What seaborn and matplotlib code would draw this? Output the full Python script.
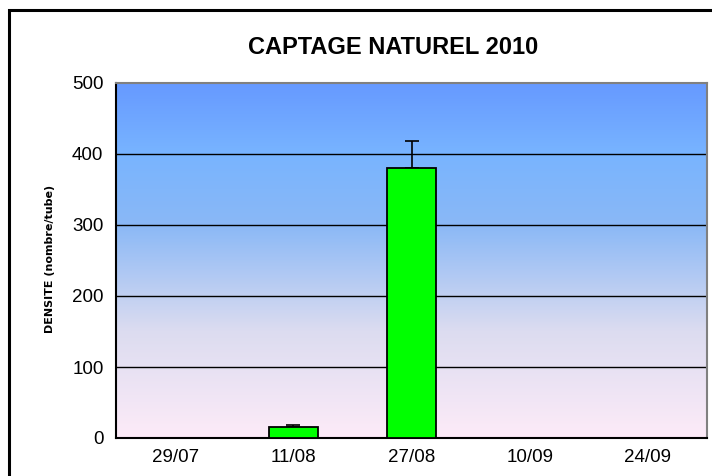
import numpy as np
import pandas as pd
import matplotlib
matplotlib.use("Agg")
import matplotlib.pyplot as plt
import seaborn as sns
from matplotlib.colors import LinearSegmentedColormap
from matplotlib.patches import Rectangle

# data
dates = ['29/07', '11/08', '27/08', '10/09', '24/09']
densite = [0, 15, 380, 0, 0]
erreur = [0, 3, 38, 0, 0]
yticks = [0, 100, 200, 300, 400, 500]

df = pd.DataFrame({'date': dates, 'densite': densite})

sns.set_style('white')
plt.rcParams['font.family'] = ['Liberation Sans', 'DejaVu Sans']
plt.rcParams['text.color'] = 'black'
plt.rcParams['xtick.color'] = 'black'
plt.rcParams['ytick.color'] = 'black'
plt.rcParams['axes.labelcolor'] = 'black'

fig = plt.figure(figsize=(7.12, 4.76), dpi=100)
ax = fig.add_axes([116 / 712, 1 - 438 / 476, 591 / 712, 355 / 476])

# gradient background of the plot area (Excel style)
grad = LinearSegmentedColormap.from_list(
    'fond', [(0.0, '#fdebf8'), (0.3, '#dcdcf0'), (0.6, '#8ab8f6'),
             (0.8, '#78b4ff'), (1.0, '#6699ff')])
ax.imshow(np.linspace(0, 1, 256).reshape(-1, 1), cmap=grad, aspect='auto',
          extent=(-0.5, 4.5, 0, 500), origin='lower', zorder=0)

# horizontal grid lines
for v in yticks[1:-1]:
    ax.axhline(v, color='black', lw=1, zorder=1)

sns.barplot(data=df, x='date', y='densite', hue='date',
            palette=['#00ff00'] * len(dates), saturation=1, legend=False,
            width=0.41, edgecolor='black', linewidth=1.3, ax=ax, zorder=3)

# upper error bars only
x = np.arange(len(dates))
ax.errorbar(x, densite, yerr=[np.zeros(len(erreur)), erreur], fmt='none',
            ecolor='black', elinewidth=1.2, capsize=5, capthick=1.2, zorder=2)

ax.set_xlim(-0.5, 4.5)
ax.set_ylim(0, 500)
ax.set_yticks(yticks)
ax.set_xticks(x)
ax.set_xticklabels(dates)
ax.set_xticks(np.arange(-0.5, 5, 1), minor=True)
ax.tick_params(axis='x', which='major', length=0, pad=8, labelsize=13.5)
ax.tick_params(axis='x', which='minor', length=4, width=1.3, direction='out')
ax.tick_params(axis='y', length=5, width=1.3, direction='out', pad=4, labelsize=13.5)
ax.set_xlabel('')
ax.set_ylabel('DENSITE (nombre/tube)', fontsize=8, fontweight='bold',
              family='DejaVu Sans')
ax.yaxis.set_label_coords(-0.104, 0.504)

for side in ['left', 'bottom']:
    ax.spines[side].set_color('black')
    ax.spines[side].set_linewidth(1.5)
for side in ['top', 'right']:
    ax.spines[side].set_color('#808080')
    ax.spines[side].set_linewidth(1.5)

fig.text(393 / 712, 1 - 47 / 476, 'CAPTAGE NATUREL 2010', ha='center', va='center',
         fontsize=17, fontweight='bold')

# chart area border (runs off the right and bottom edges)
fig.patches.append(Rectangle((9 / 712, -0.1), 1.2, 1 - 10 / 476 + 0.1,
                             transform=fig.transFigure, fill=False,
                             edgecolor='black', lw=2.2))

fig.savefig('out.png', dpi=100)
